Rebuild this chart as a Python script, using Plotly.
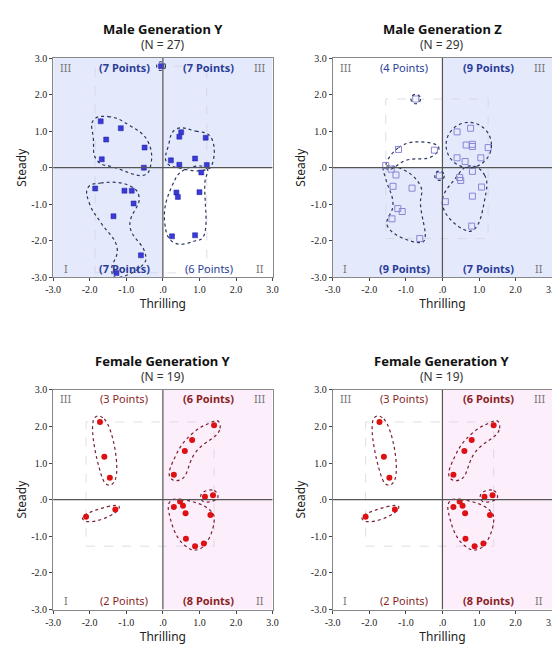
import plotly.graph_objects as go

# ---- data ----
my_x = [-1.7, -1.15, -1.55, -0.5, -1.67, -0.52, -0.05, 0.5, 0.45, 1.17, 0.22, 0.88, 0.45, 1.2,
        -1.85, -1.05, -0.85, -0.8, -1.35, -0.6, -1.27, 1.05, 0.37, 0.41, 1.0, 0.25, 0.88]
my_y = [1.27, 1.08, 0.77, 0.55, 0.23, 0.0, 2.78, 0.97, 0.85, 0.82, 0.2, 0.25, 0.08, 0.07,
        -0.57, -0.63, -0.63, -0.98, -1.33, -2.4, -2.88, -0.13, -0.68, -0.8, -0.67, -1.88, -1.85]

mz_x = [-0.73, -1.2, -0.22, -1.55, -1.4, -1.27, -1.35, -0.83, -1.22, -1.1, -1.38, -0.62, -0.08, 0.08,
        0.4, 0.77, 0.65, 0.82, 0.82, 1.25, 0.4, 0.62, 1.05,
        0.82, 0.47, 0.5, 1.07, 0.82, 0.8]
mz_y = [1.88, 0.5, 0.48, 0.06, -0.04, -0.2, -0.51, -0.56, -1.12, -1.2, -1.4, -1.94, -0.22, -0.93,
        0.98, 1.08, 0.62, 0.58, 0.64, 0.55, 0.27, 0.17, 0.27,
        -0.1, -0.27, -0.35, -0.53, -0.78, -1.6]

fy_x = [-1.72, -1.6, -1.45, -2.1, -1.3, 1.4, 0.8, 0.6, 0.3, 1.15, 1.37,
        0.47, 0.3, 0.55, 0.62, 1.3, 0.63, 0.88, 1.12]
fy_y = [2.12, 1.17, 0.6, -0.47, -0.27, 2.03, 1.63, 1.33, 0.68, 0.08, 0.12,
        -0.05, -0.2, -0.17, -0.37, -0.42, -1.07, -1.27, -1.2]

# cluster outlines (x list, y list)
my_loops = [
    ([-1.9, -1.5, -0.9, -0.4, -0.35, -0.5, -1.3, -1.8, -1.9], [1.3, 1.4, 1.15, 0.7, 0.0, -0.2, 0.0, 0.2, 0.8]),
    ([0.35, 0.9, 1.3, 1.35, 1.2, 0.4, 0.1, 0.15], [1.05, 1.0, 0.85, 0.1, -0.05, 0.0, 0.15, 0.6]),
    ([0.6, 1.2, 1.15, 1.1, 0.9, 0.3, 0.05, 0.25], [-0.05, -0.02, -0.4, -1.9, -2.0, -2.05, -1.5, -0.5]),
    ([-2.05, -1.7, -0.9, -0.65, -0.9, -0.5, -0.5, -1.3, -1.4, -1.25, -1.7, -2.0],
     [-0.55, -0.42, -0.5, -0.8, -1.6, -2.3, -2.6, -3.0, -2.8, -2.2, -1.5, -1.0]),
]
my_rings = [(-0.05, 2.78, 0.12)]

mz_loops = [
    ([-1.55, -1.2, -0.5, -0.1, -0.3, -1.0, -1.45], [0.0, 0.55, 0.7, 0.55, 0.3, 0.2, -0.05]),
    ([-1.6, -1.2, -0.6, -0.6, -0.5, -0.65, -1.5, -1.35, -1.55], [0.0, 0.0, -0.5, -1.0, -2.0, -2.05, -1.6, -1.0, -0.3]),
    ([0.75, 1.15, 1.15, 0.85, 0.6, 0.0, 0.35], [0.05, -0.2, -0.9, -1.7, -1.7, -1.0, -0.3]),
]
mz_rings = [(-0.73, 1.88, 0.13), (-0.08, -0.22, 0.13), (0.72, 0.62, 0.62)]

fy_loops = [
    ([-1.85, -1.6, -1.3, -1.5, -1.75], [2.25, 2.2, 0.55, 0.4, 0.9]),
    ([-2.2, -2.0, -1.2, -1.3, -2.05], [-0.5, -0.35, -0.18, -0.35, -0.6]),
    ([1.5, 1.55, 0.9, 0.5, 0.2, 0.35, 0.8, 1.3], [2.15, 1.9, 1.3, 0.55, 0.6, 1.2, 1.8, 2.1]),
    ([1.05, 1.4, 1.5, 1.1], [0.15, 0.25, 0.05, -0.05]),
    ([0.2, 0.5, 1.3, 1.4, 1.0, 0.6, 0.2], [-0.05, 0.0, -0.3, -0.6, -1.35, -1.25, -0.5]),
]

ticks = [-3, -2, -1, 0, 1, 2, 3]
tick_text = ["-3.0", "-2.0", "-1.0", ".0", "1.0", "2.0", "3.0"]

BLUE_BG = "#e4eafb"
PINK_BG = "#fdeefc"
BLUE_TXT = "#2b3c99"
RED_TXT = "#8b1f1f"

female = dict(title="Female Generation Y", n=19, x=fy_x, y=fy_y, loops=fy_loops, rings=[],
              shade=[(0, 3, 0, 3), (0, 3, -3, 0)], bg=PINK_BG,
              marker=dict(symbol="circle", size=6, color="#dd1111"),
              loopcol="#7a2030", txt=RED_TXT,
              counts=[("(3 Points)", False), ("(6 Points)", True), ("(2 Points)", False), ("(8 Points)", True)])

panels = [
    dict(title="Male Generation Y", n=27, x=my_x, y=my_y, loops=my_loops, rings=my_rings,
         shade=[(-3, 0, 0, 3), (0, 3, 0, 3), (-3, 0, -3, 0)], bg=BLUE_BG,
         marker=dict(symbol="square", size=5, color="#3a3ad6", line=dict(color="#2020a0", width=0.5)),
         loopcol="#2a3560", txt=BLUE_TXT,
         counts=[("(7 Points)", True), ("(7 Points)", True), ("(7 Points)", True), ("(6 Points)", False)],
         dom=([0.068, 0.47], [0.588, 0.931])),
    dict(title="Male Generation Z", n=29, x=mz_x, y=mz_y, loops=mz_loops, rings=mz_rings,
         shade=[(0, 3, 0, 3), (-3, 0, -3, 0), (0, 3, -3, 0)], bg=BLUE_BG,
         marker=dict(symbol="square-open", size=6, color="#8a86d6", line=dict(width=1)),
         loopcol="#2a3560", txt=BLUE_TXT,
         counts=[("(4 Points)", False), ("(9 Points)", True), ("(9 Points)", True), ("(7 Points)", True)],
         dom=([0.58, 0.982], [0.588, 0.931])),
    dict(female, dom=([0.068, 0.47], [0.068, 0.412])),
    dict(female, dom=([0.58, 0.982], [0.068, 0.412])),
]

fig = go.Figure()
shapes = []
annotations = []
tick_font = dict(family="Liberation Serif", size=10, color="#222")

for i, p in enumerate(panels):
    k = "" if i == 0 else str(i + 1)
    xa, ya = "x" + k, "y" + k
    xd, yd = p["dom"]
    fig.update_layout(**{
        "xaxis" + k: dict(domain=xd, range=[-3, 3], tickvals=ticks, ticktext=tick_text,
                          showgrid=False, zeroline=False, showline=True, linecolor="#888",
                          mirror=True, ticks="outside", ticklen=3, tickfont=tick_font,
                          title=dict(text="Thrilling", font=dict(size=12), standoff=4),
                          anchor=ya, fixedrange=True),
        "yaxis" + k: dict(domain=yd, range=[-3, 3], tickvals=ticks, ticktext=tick_text,
                          showgrid=False, zeroline=False, showline=True, linecolor="#888",
                          mirror=True, ticks="outside", ticklen=3, tickfont=tick_font,
                          title=dict(text="Steady", font=dict(size=12), standoff=2),
                          anchor=xa, fixedrange=True),
    })
    for x0, x1, y0, y1 in p["shade"]:
        shapes.append(dict(type="rect", xref=xa, yref=ya, x0=x0, x1=x1, y0=y0, y1=y1,
                           fillcolor=p["bg"], line=dict(width=0), layer="below"))
    # range box from data extents
    shapes.append(dict(type="rect", xref=xa, yref=ya, x0=min(p["x"]), x1=max(p["x"]),
                       y0=min(p["y"]), y1=max(p["y"]), line=dict(color="#d4d4e2", width=0.8, dash="dash"),
                       layer="below"))
    shapes.append(dict(type="line", xref=xa, yref=ya, x0=-3, x1=3, y0=0, y1=0,
                       line=dict(color="#555", width=1.2)))
    shapes.append(dict(type="line", xref=xa, yref=ya, x0=0, x1=0, y0=-3, y1=3,
                       line=dict(color="#555", width=1.2)))
    for cx, cy, r in p["rings"]:
        shapes.append(dict(type="circle", xref=xa, yref=ya, x0=cx - r, x1=cx + r, y0=cy - r, y1=cy + r,
                           line=dict(color=p["loopcol"], width=1.2, dash="dot")))
    for lx, ly in p["loops"]:
        fig.add_trace(go.Scatter(x=lx + lx[:1], y=ly + ly[:1], mode="lines", xaxis=xa, yaxis=ya,
                                 line=dict(color=p["loopcol"], width=1.2, dash="dot", shape="spline",
                                           smoothing=1.3),
                                 showlegend=False, hoverinfo="skip"))
    fig.add_trace(go.Scatter(x=p["x"], y=p["y"], mode="markers", xaxis=xa, yaxis=ya,
                             marker=p["marker"], showlegend=False))
    # quadrant labels
    for txt, qx, qy in [("III", -2.65, 2.75), ("III", 2.65, 2.75), ("I", -2.65, -2.75), ("II", 2.65, -2.75)]:
        annotations.append(dict(x=qx, y=qy, xref=xa, yref=ya, text=txt, showarrow=False,
                                font=dict(size=11, color="#777")))
    for (txt, bold), (qx, qy) in zip(p["counts"], [(-1.05, 2.75), (1.25, 2.75), (-1.05, -2.75), (1.25, -2.75)]):
        annotations.append(dict(x=qx, y=qy, xref=xa, yref=ya,
                                text="<b>%s</b>" % txt if bold else txt, showarrow=False,
                                font=dict(size=11, color=p["txt"])))
    xc = (xd[0] + xd[1]) / 2
    annotations.append(dict(x=xc, y=yd[1], xref="paper", yref="paper", yshift=18, yanchor="bottom",
                            xanchor="center", text="<b>%s</b>" % p["title"], showarrow=False,
                            font=dict(size=13, color="#111")))
    annotations.append(dict(x=xc, y=yd[1], xref="paper", yref="paper", yshift=3, yanchor="bottom",
                            xanchor="center", text="(N = %d)" % p["n"], showarrow=False,
                            font=dict(size=12, color="#333")))

fig.update_layout(width=560, height=650, margin=dict(l=0, r=0, t=0, b=0),
                  plot_bgcolor="white", paper_bgcolor="white",
                  font=dict(family="Noto Sans", color="#222"),
                  shapes=shapes, annotations=annotations)
fig.write_html("out.html")
